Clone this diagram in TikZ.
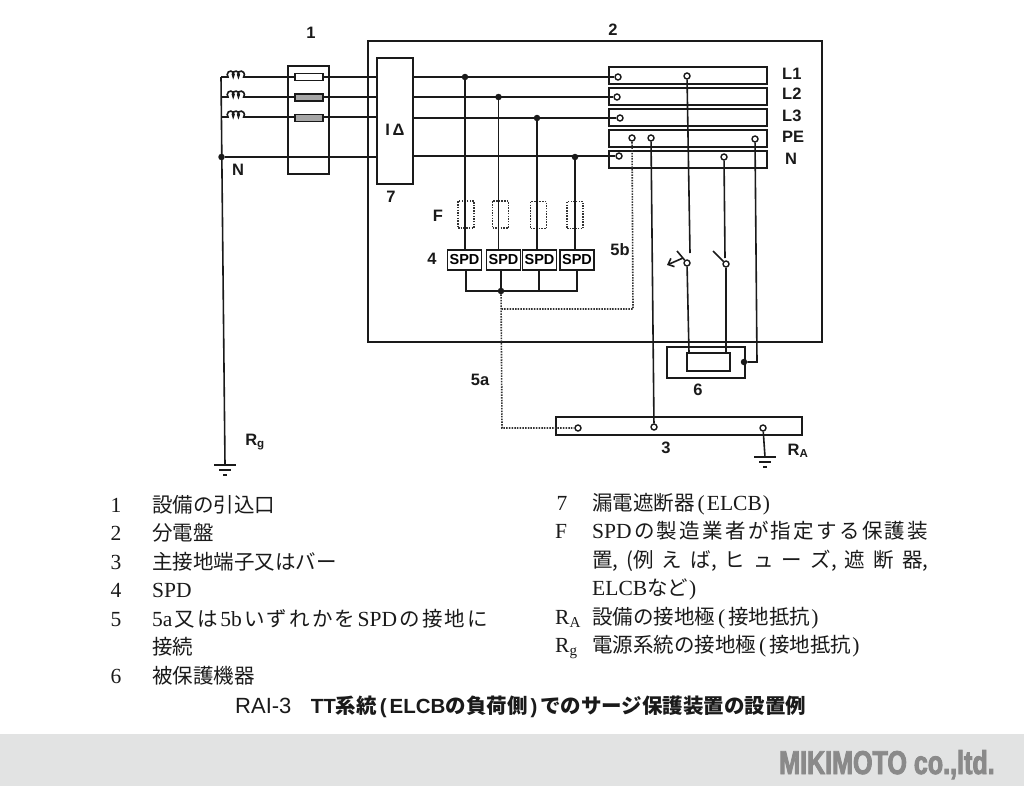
\documentclass[tikz,border=0pt]{standalone}
\usepackage{fontspec}
\usetikzlibrary{arrows.meta}
\setmainfont[Scale=1.05]{Liberation Serif}
\newfontfamily\jpfont{Noto Sans CJK JP}
\newfontfamily\lblfont{Liberation Sans}
\newfontfamily\logofont[FakeStretch=0.76,FakeBold=2.6]{Liberation Sans Bold}
\newcommand{\jp}[1]{{\jpfont #1}}
\definecolor{inkc}{HTML}{1A1A1A}
\definecolor{bandc}{HTML}{E2E3E3}
\definecolor{logoc}{HTML}{8A8A8A}
\begin{document}
\begin{tikzpicture}[x=1pt,y=-1pt]
      \newcommand{\barwidth}[0]{158pt}
      \newcommand{\barheight}[0]{17pt}
      \newcommand{\barspacing}[0]{4pt}
      \newcommand{\rowspacing}[0]{28.5pt}
      \newcommand{\earth}[1]{
        \draw[wire] ([xshift=-11pt] #1) -- ([xshift=11pt] #1);
        \draw[wire] ([xshift=-6pt,yshift=-5pt] #1) -- ([xshift=6pt,yshift=-5pt] #1);
        \draw[wire] ([xshift=-2pt,yshift=-10pt] #1) -- ([xshift=2pt,yshift=-10pt] #1);
      }
      
      \tikzstyle{box} = [
        rectangle,
        draw=inkc,
        line width=1.6pt,
        inner sep=0pt,
        outer sep=0pt,
        anchor=north west,
      ]
      \tikzstyle{busbar} = [
        box,
        anchor=north,
        minimum width=\barwidth,
        minimum height=\barheight,
      ]
      \tikzstyle{fuse} = [
        box,
        anchor=center,
        fill=white,
        minimum width=28pt,
        minimum height=7pt,
      ]
      \tikzstyle{fusedash} = [
        box,
        anchor=center,
        line width=1.4pt,
        draw=black!80,
        dash pattern=on 1.5pt off 1.2pt,
        minimum width=16pt,
        minimum height=27pt,
      ]
      \tikzstyle{spd} = [
        box,
        anchor=north,
        minimum width=34pt,
        minimum height=20pt,
        font=\lblfont\bfseries\fontsize{14.5}{16}\selectfont,
      ]
      \tikzstyle{term} = [
        circle,
        draw=inkc,
        fill=white,
        line width=1.4pt,
        inner sep=0pt,
        minimum size=6pt,
      ]
      \tikzstyle{junct} = [
        circle,
        fill=inkc,
        inner sep=0pt,
        minimum size=6.5pt,
      ]
      \tikzstyle{wire} = [
        line width=1.6pt,
        draw=inkc,
      ]
      \tikzstyle{dotwire} = [
        line width=1.6pt,
        draw=black!80,
        dash pattern=on 1.5pt off 1.2pt,
      ]
      \tikzstyle{lbl} = [
        inner sep=0pt,
        text=inkc,
        font=\lblfont\bfseries\fontsize{16.5}{18}\selectfont,
      ]
      \tikzstyle{legend} = [
        inner sep=0pt,
        anchor=base west,
        text=inkc,
        font=\fontsize{20.5}{24}\selectfont,
      ]
      
      \useasboundingbox (0,0) rectangle (1024,787);
      \fill[white] (0,0) rectangle (1024,787);
      \fill[bandc] (0,734) rectangle (1024,786);
      
      % boxes
      \node[box,minimum width=454pt,minimum height=301pt] (panel) at (368,41) {};
      \node[box,minimum width=41pt,minimum height=108pt] (intake) at (288,66) {};
      \node[box,minimum width=36pt,minimum height=126pt] (rcd) at (377,58) {};
      
      % busbars
      \node[busbar] (barLI) at (688,67) {};
      \node[busbar,anchor=north] (barLII) at ([yshift=-\barspacing] barLI.south) {};
      \node[busbar,anchor=north] (barLIII) at ([yshift=-\barspacing] barLII.south) {};
      \node[busbar,anchor=north] (barPE) at ([yshift=-\barspacing] barLIII.south) {};
      \node[busbar,anchor=north] (barN) at ([yshift=-\barspacing] barPE.south) {};
      \node[box,minimum width=246pt,minimum height=18pt] (barMain) at (556,417) {};
      
      % terminals
      \node[term] (tLI) at (618,77) {};
      \node[term] (tLIb) at (687,76) {};
      \node[term] (tLII) at (617,97) {};
      \node[term] (tLIII) at (620,118) {};
      \node[term] (tPEa) at (632,138) {};
      \node[term] (tPEb) at (651,138) {};
      \node[term] (tPEc) at (755,139) {};
      \node[term] (tN) at (619,156) {};
      \node[term] (tNb) at (724,157) {};
      \node[term] (tMainI) at (578,428) {};
      \node[term] (tMainII) at (654,427) {};
      \node[term] (tMainIII) at (763,428) {};
      
      % source side
      {
        \coordinate (srcI) at (221,77);
        \coordinate (srcII) at (221,97);
        \coordinate (srcIII) at (221,117);
        \coordinate (gndL) at (225,465);
        \node[junct] (jSrc) at (221.5,157) {};
        
        \draw[wire] (srcI) -- (gndL);
        \draw[wire] (srcI) -- ++(7,0) arc[start angle=220,end angle=-40,x radius=3.4pt,y radius=3.6pt]
          arc[start angle=220,end angle=-40,x radius=3.4pt,y radius=3.6pt]
          arc[start angle=220,end angle=-40,x radius=3.4pt,y radius=3.6pt] -- (rcd.west |- srcI);
        \draw[wire] (srcII) -- ++(7,0) arc[start angle=220,end angle=-40,x radius=3.4pt,y radius=3.6pt]
          arc[start angle=220,end angle=-40,x radius=3.4pt,y radius=3.6pt]
          arc[start angle=220,end angle=-40,x radius=3.4pt,y radius=3.6pt] -- (rcd.west |- srcII);
        \draw[wire] (srcIII) -- ++(7,0) arc[start angle=220,end angle=-40,x radius=3.4pt,y radius=3.6pt]
          arc[start angle=220,end angle=-40,x radius=3.4pt,y radius=3.6pt]
          arc[start angle=220,end angle=-40,x radius=3.4pt,y radius=3.6pt] -- (rcd.west |- srcIII);
        \draw[wire] (jSrc) -- (rcd.west |- jSrc);
        
        \node[fuse] (fuseI) at (309,77) {};
        \node[fuse,fill=black!35] (fuseII) at (309,97.5) {};
        \node[fuse,fill=black!35] (fuseIII) at (309,118) {};
        
        \earth{gndL}
      }
      
      % load side
      {
        \node[junct] (jI) at (465,77) {};
        \node[junct] (jII) at (498.5,97) {};
        \node[junct] (jIII) at (537,118) {};
        \node[junct] (jIV) at (575,157) {};
        
        \draw[wire] (rcd.east |- tLI) -- (tLI);
        \draw[wire] (rcd.east |- tLII) -- (tLII);
        \draw[wire] (rcd.east |- tLIII) -- (tLIII);
        \draw[wire] (rcd.east |- tN) -- (tN);
        
        \node[fusedash] (fI) at (466,214.5) {};
        \node[fusedash] (fII) at (500.5,214.5) {};
        \node[fusedash] (fIII) at (538.5,215) {};
        \node[fusedash] (fIV) at (575,215) {};
        
        \node[spd] (spdI) at (464.5,250) {SPD};
        \node[spd] (spdII) at (503.5,250) {SPD};
        \node[spd] (spdIII) at (539.5,250) {SPD};
        \node[spd] (spdIV) at (577,250) {SPD};
        
        \draw[wire] (jI) -- (jI |- spdI.north);
        \draw[wire] (jII) -- (jII |- spdII.north);
        \draw[wire] (jIII) -- (jIII |- spdIII.north);
        \draw[wire] (jIV) -- (jIV |- spdIV.north);
        
        \coordinate (combI) at (466,291);
        \node[junct] (jSpd) at (501,291) {};
        \coordinate (combIII) at (539,291);
        \coordinate (combIV) at (577,291);
        
        \draw[wire] (combI |- spdI.south) -- (combI) -- (combIV) -- (combIV |- spdIV.south);
        \draw[wire] (jSpd) -- (jSpd |- spdII.south);
        \draw[wire] (combIII) -- (combIII |- spdIII.south);
      }
      
      % earth connections
      {
        \coordinate (bendVa) at (502,428);
        \coordinate (bendVb) at (501.5,309);
        \coordinate (bendVc) at (633,309);
        
        \draw[dotwire] (jSpd) -- (bendVa) -- (tMainI);
        \draw[dotwire] (bendVb) -- (bendVc) -- (tPEa);
        \draw[wire] (tPEb) -- (tMainII);
        
        \coordinate (gndR) at (765,457);
        \draw[wire] (tMainIII) -- (gndR);
        \earth{gndR}
      }
      
      % equipment and switches
      {
        \node[box,minimum width=78pt,minimum height=31pt] (eqOuter) at (667,347) {};
        \node[box,minimum width=43pt,minimum height=18pt] (eqInner) at (687,353) {};
        \node[junct] (jEq) at (744,362) {};
        \coordinate (bendEq) at (757,362);
        
        \node[term] (swI) at (687,263) {};
        \node[term] (swII) at (726,264) {};
        \coordinate (swIin) at (690,253);
        \coordinate (swIIin) at (725,258);
        \coordinate (bladeI) at (677,251);
        \coordinate (bladeII) at (713,251);
        \coordinate (arrowS) at (683,258);
        \coordinate (arrowE) at (667,265);
        
        \draw[wire] (tLIb) -- (swIin);
        \draw[wire] (tNb) -- (swIIin);
        \draw[wire] (bladeI) -- (swI);
        \draw[wire] (bladeII) -- (swII);
        \draw[wire,-{Straight Barb[length=5pt,width=9pt]}] (arrowS) -- (arrowE);
        \draw[wire] (swI) -- ([xshift=2pt] eqInner.north west);
        \draw[wire] (swII) -- (swII |- eqInner.north);
        \draw[wire] (jEq) -- (bendEq) -- (tPEc);
      }
      
      % labels
      \node[lbl] (lblI) at (311,33) {1};
      \node[lbl] (lblII) at (613,30) {2};
      \node[lbl] (lblIII) at (666,448) {3};
      \node[lbl] (lblIV) at (432,259) {4};
      \node[lbl] (lblVa) at (480,380) {5a};
      \node[lbl] (lblVb) at (620,250) {5b};
      \node[lbl] (lblVI) at (698,390) {6};
      \node[lbl] (lblVII) at (391,197) {7};
      \node[lbl] (lblF) at (438,216) {F};
      \node[lbl] (lblNs) at (238,170) {N};
      \node[lbl] (lblRcd) at (395,130) {I\,Δ};
      \node[lbl] (lblRg) at (255,442) {R\textsubscript{g}};
      \node[lbl] (lblRa) at (798,451) {R\textsubscript{A}};
      \node[lbl,anchor=west] (lblLI) at (782,74) {L1};
      \node[lbl,anchor=west] (lblLII) at (782,94) {L2};
      \node[lbl,anchor=west] (lblLIII) at (782,116) {L3};
      \node[lbl,anchor=west] (lblPE) at (782,137) {PE};
      \node[lbl,anchor=west] (lblN) at (785,159) {N};
      
      % legend: left column
      {
        \node[legend,anchor=base] (numI) at (116,512) {1};
        \node[legend,anchor=base] (numII) at ([yshift=-\rowspacing] numI.base) {2};
        \node[legend,anchor=base] (numIII) at ([yshift=-\rowspacing] numII.base) {3};
        \node[legend,anchor=base] (numIV) at ([yshift=-\rowspacing] numIII.base) {4};
        \node[legend,anchor=base] (numV) at ([yshift=-\rowspacing] numIV.base) {5};
        \node[legend,anchor=base] (numVI) at ([yshift=-2*\rowspacing] numV.base) {6};
        
        \node[legend] (txtI) at (152,512) {\jp{設備の引込口}};
        \node[legend] (txtII) at ([yshift=-\rowspacing] txtI.base west) {\jp{分電盤}};
        \node[legend] (txtIII) at ([yshift=-\rowspacing] txtII.base west) {\jp{主接地端子又はバー}};
        \node[legend] (txtIV) at ([yshift=-\rowspacing] txtIII.base west) {SPD};
        \node[legend] (txtV) at ([yshift=-\rowspacing] txtIV.base west) {\makebox[336pt][s]{5a\hfil\jp{又}\hfil\jp{は}\hfil 5b\hfil\jp{い}\hfil\jp{ず}\hfil\jp{れ}\hfil\jp{か}\hfil\jp{を}\hfil SPD\hfil\jp{の}\hfil\jp{接}\hfil\jp{地}\hfil\jp{に}}};
        \node[legend] (txtVb) at ([yshift=-\rowspacing] txtV.base west) {\jp{接続}};
        \node[legend] (txtVI) at ([yshift=-\rowspacing] txtVb.base west) {\jp{被保護機器}};
      }
      
      % legend: right column
      {
        \node[legend,anchor=base] (numVII) at (562,510) {7};
        \node[legend] (numF) at ([xshift=-7pt,yshift=-\rowspacing] numVII.base) {F};
        \node[legend] (numRa) at ([yshift=-3*\rowspacing] numF.base west) {R\textsubscript{A}};
        \node[legend] (numRg) at ([yshift=-\rowspacing] numRa.base west) {R\textsubscript{g}};
        
        \node[legend] (txtVII) at (592,510) {\jp{漏電遮断器}\hspace{3pt}(\hspace{2pt}ELCB\hspace{1pt})};
        \node[legend] (txtF) at ([yshift=-\rowspacing] txtVII.base west) {\makebox[336pt][s]{SPD\hfil\jp{の}\hfil\jp{製}\hfil\jp{造}\hfil\jp{業}\hfil\jp{者}\hfil\jp{が}\hfil\jp{指}\hfil\jp{定}\hfil\jp{す}\hfil\jp{る}\hfil\jp{保}\hfil\jp{護}\hfil\jp{装}}};
        \node[legend] (txtFb) at ([yshift=-\rowspacing] txtF.base west) {\makebox[336pt][s]{\jp{置,}\hfil\jp{(例}\hfil\jp{え}\hfil\jp{ば,}\hfil\jp{ヒ}\hfil\jp{ュ}\hfil\jp{ー}\hfil\jp{ズ,}\hfil\jp{遮}\hfil\jp{断}\hfil\jp{器,}}};
        \node[legend] (txtFc) at ([yshift=-\rowspacing] txtFb.base west) {ELCB\jp{など}\hspace{1pt})};
        \node[legend] (txtRa) at ([yshift=-\rowspacing] txtFc.base west) {\jp{設備の接地極}\hspace{3pt}(\hspace{3pt}\jp{接地抵抗}\hspace{1pt})};
        \node[legend] (txtRg) at ([yshift=-\rowspacing] txtRa.base west) {\jp{電源系統の接地極}\hspace{3pt}(\hspace{3pt}\jp{接地抵抗}\hspace{1pt})};
      }
      
      % caption and logo
      \node[legend,font=\lblfont\fontsize{22}{24}\selectfont] (capNo) at (235,713) {RAI-3};
      \node[legend,font=\lblfont\bfseries\fontsize{20.5}{24}\selectfont,anchor=base west] (capTxt)
        at ([xshift=19pt] capNo.base east) {TT\jp{系統}\hspace{3pt}(\hspace{3pt}ELCB\jp{の負荷側}\hspace{3pt})\hspace{3pt}\jp{でのサージ保護装置の設置例}};
      \node[inner sep=0pt,anchor=base west,text=logoc,font=\logofont\fontsize{33}{36}\selectfont] (logo)
        at (779,774) {MIKIMOTO co.,ltd.};
\end{tikzpicture}
\end{document}
